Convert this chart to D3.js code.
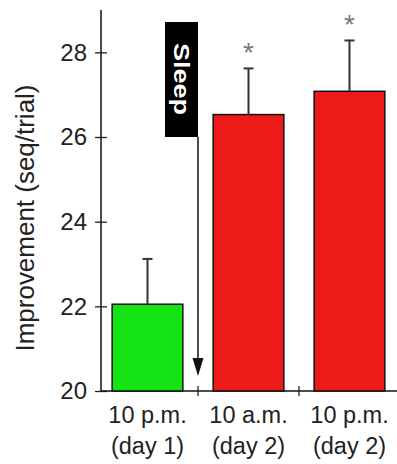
<!DOCTYPE html>
<html>
<head>
<meta charset="utf-8">
<script src="https://cdn.jsdelivr.net/npm/d3@7"></script>
<style>
  body { margin: 0; background: #fff; }
  text { font-family: "Liberation Sans", Arial, sans-serif; }
</style>
</head>
<body>
<div id="chart"></div>
<script>
// data
var categories = ["10 p.m.|(day 1)", "10 a.m.|(day 2)", "10 p.m.|(day 2)"];
var means      = [22.05, 26.53, 27.08];
var errors     = [1.07, 1.09, 1.2];
var signif     = [false, true, true];
var barColors  = ["#14e414", "#ee1a1a", "#ee1a1a"];
var yTicks     = [20, 22, 24, 26, 28];

var width = 397, height = 464;

var svg = d3.select("#chart")
  .append("svg")
  .attr("width", width)
  .attr("height", height);

// scales
var y = d3.scaleLinear()
  .domain([20, 29])
  .range([391, 10]);

var x = d3.scaleBand()
  .domain(categories)
  .range([97, 400])
  .paddingInner(0.3)
  .paddingOuter(0.15);

var axisX = 101;

// y axis
var yAxis = d3.axisLeft(y)
  .tickValues(yTicks)
  .tickSize(6)
  .tickPadding(8)
  .tickFormat(d3.format("d"));

var yg = svg.append("g")
  .attr("transform", "translate(" + axisX + ",0)")
  .call(yAxis);

yg.select(".domain").remove();
yg.selectAll(".tick line").attr("x1", 6).attr("stroke", "#222").attr("stroke-width", 1.3);
yg.selectAll(".tick text")
  .attr("font-size", 24)
  .attr("font-family", "Liberation Sans, Arial, sans-serif")
  .attr("fill", "#222");

yg.append("line")
  .attr("x1", 0).attr("x2", 0)
  .attr("y1", y(29)).attr("y2", y(20))
  .attr("stroke", "#111")
  .attr("stroke-width", 1.5);

// y title
svg.append("text")
  .attr("transform", "translate(34," + 218 + ") rotate(-90)")
  .attr("text-anchor", "middle")
  .attr("font-size", 25)
  .attr("textLength", 267)
  .attr("lengthAdjust", "spacingAndGlyphs")
  .attr("fill", "#222")
  .text("Improvement (seq/trial)");

// x axis line and ticks between groups
svg.append("line")
  .attr("x1", axisX).attr("x2", width)
  .attr("y1", y(20)).attr("y2", y(20))
  .attr("stroke", "#111")
  .attr("stroke-width", 1.5);

var bounds = categories.slice(1).map(function(c) { return x(c) - x.step() * x.paddingInner() / 2; });
svg.selectAll(".xtick")
  .data(bounds)
  .enter()
    .append("line")
    .attr("class", "xtick")
    .attr("x1", function(d) { return d; })
    .attr("x2", function(d) { return d; })
    .attr("y1", y(20) - 5)
    .attr("y2", y(20) + 5)
    .attr("stroke", "#222")
    .attr("stroke-width", 1.3);

// bars
svg.selectAll(".bar")
  .data(means)
  .enter()
    .append("rect")
    .attr("class", "bar")
    .attr("x", function(d, i) { return x(categories[i]); })
    .attr("y", function(d) { return y(d); })
    .attr("width", x.bandwidth())
    .attr("height", function(d) { return y(20) - y(d); })
    .attr("fill", function(d, i) { return barColors[i]; })
    .attr("stroke", "#111")
    .attr("stroke-width", 1.5);

// error bars
var eb = svg.selectAll(".err")
  .data(means)
  .enter()
    .append("g")
    .attr("class", "err")
    .attr("transform", function(d, i) { return "translate(" + (x(categories[i]) + x.bandwidth() / 2) + ",0)"; });

eb.append("line")
  .attr("x1", 0).attr("x2", 0)
  .attr("y1", function(d) { return y(d); })
  .attr("y2", function(d, i) { return y(d + errors[i]); })
  .attr("stroke", "#333")
  .attr("stroke-width", 2);

eb.append("line")
  .attr("x1", -5).attr("x2", 5)
  .attr("y1", function(d, i) { return y(d + errors[i]); })
  .attr("y2", function(d, i) { return y(d + errors[i]); })
  .attr("stroke", "#333")
  .attr("stroke-width", 2);

// significance stars
eb.filter(function(d, i) { return signif[i]; })
  .append("text")
  .attr("y", function(d) { return y(d + errors[means.indexOf(d)]) - 6; })
  .attr("text-anchor", "middle")
  .attr("font-size", 28)
  .attr("fill", "#777")
  .text("*");

// sleep marker
var sleepX = bounds[0];
svg.append("rect")
  .attr("x", sleepX - 33)
  .attr("y", 22)
  .attr("width", 33)
  .attr("height", 115)
  .attr("fill", "#000");

svg.append("text")
  .attr("transform", "translate(" + (sleepX - 24) + ",79) rotate(90)")
  .attr("text-anchor", "middle")
  .attr("font-size", 22)
  .attr("font-weight", "bold")
  .attr("textLength", 72)
  .attr("lengthAdjust", "spacingAndGlyphs")
  .attr("fill", "#fff")
  .text("Sleep");

svg.append("line")
  .attr("x1", sleepX).attr("x2", sleepX)
  .attr("y1", 137).attr("y2", 362)
  .attr("stroke", "#111")
  .attr("stroke-width", 1.5);

svg.append("path")
  .attr("d", "M" + (sleepX - 5.5) + ",358 L" + (sleepX + 5.5) + ",358 L" + sleepX + ",376 Z")
  .attr("fill", "#111");

// x labels
var lab = svg.selectAll(".xlab")
  .data(categories)
  .enter()
    .append("text")
    .attr("class", "xlab")
    .attr("text-anchor", "middle")
    .attr("font-size", 23.5)
    .attr("fill", "#222");

lab.append("tspan")
  .attr("x", function(d) { return x(d) + x.bandwidth() / 2; })
  .attr("y", 423)
  .text(function(d) { return d.split("|")[0]; });

lab.append("tspan")
  .attr("x", function(d) { return x(d) + x.bandwidth() / 2; })
  .attr("y", 454)
  .text(function(d) { return d.split("|")[1]; });
</script>
</body>
</html>
